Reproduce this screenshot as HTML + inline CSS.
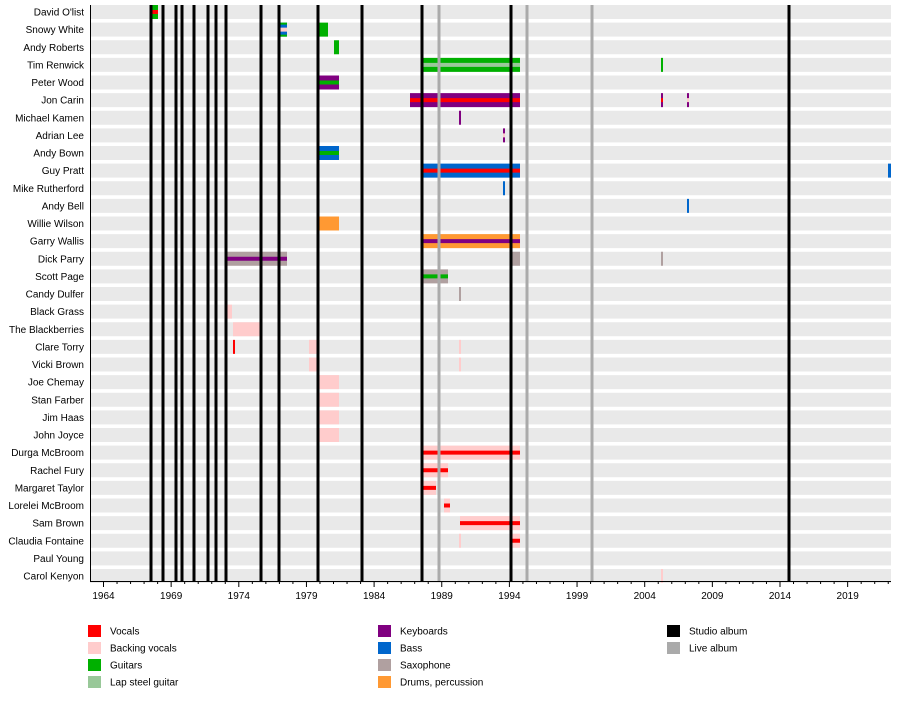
<!DOCTYPE html><html><head><style>body{margin:0;background:#fff}svg{display:block;font-family:"Liberation Sans",sans-serif}</style></head><body>
<svg id="s" width="900" height="701" xmlns="http://www.w3.org/2000/svg"></svg>
<script>
const s=document.getElementById('s');let h='';
const names=["David O'list","Snowy White","Andy Roberts","Tim Renwick","Peter Wood","Jon Carin","Michael Kamen","Adrian Lee","Andy Bown","Guy Pratt","Mike Rutherford","Andy Bell","Willie Wilson","Garry Wallis","Dick Parry","Scott Page","Candy Dulfer","Black Grass","The Blackberries","Clare Torry","Vicki Brown","Joe Chemay","Stan Farber","Jim Haas","John Joyce","Durga McBroom","Rachel Fury","Margaret Taylor","Lorelei McBroom","Sam Brown","Claudia Fontaine","Paul Young","Carol Kenyon"];
const cy=i=>12+i*17.625;
names.forEach((n,i)=>{h+=`<rect x="90" y="${cy(i)-7}" width="801" height="14" fill="#e9e9e9"/>`;h+=`<text x="84" y="${cy(i)+3.5}" font-size="10" text-anchor="end" fill="#000">${n}</text>`;});
const C={v:'#ff0000',b:'#ffcccc',g:'#00b000',l:'#99c899',k:'#800080',B:'#0066cc',s:'#b0a0a0',d:'#ff9933'};
const bars=[[0,151,158,'g','v'],[1,278,287,'B','b'],[1,319,328,'g'],[2,334,339,'g'],[3,423,520,'g','l'],[3,661,663,'g'],[4,319,339,'k','g'],[5,410,520,'k','v'],[5,661,663,'k','v'],[5,687,689,'k','b'],[6,459,461,'k'],[7,503,505,'k','b'],[8,319,339,'B','g'],[9,423,520,'B','v'],[9,888,891,'B'],[10,503,505,'B'],[11,687,689,'B'],[12,319,339,'d'],[13,423,520,'d','k'],[14,226,287,'s','k'],[14,510,520,'s'],[14,661,663,'s'],[15,423,448,'s','g'],[16,459,461,'s'],[17,226,232,'b'],[18,233,260,'b'],[19,233,235,'v'],[19,309,319,'b'],[19,459,461,'b'],[20,309,319,'b'],[20,459,461,'b'],[21,319,339,'b'],[22,319,339,'b'],[23,319,339,'b'],[24,319,339,'b'],[25,423,520,'b','v'],[26,423,448,'b','v'],[27,423,436,'b','v'],[28,444,450,'b','v'],[29,460,520,'b','v'],[30,459,461,'b'],[30,510,520,'b','v'],[32,661,663,'b']];
bars.forEach(([i,a,b,c,m])=>{h+=`<rect x="${a}" y="${cy(i)-7}" width="${b-a}" height="14" fill="${C[c]}"/>`;if(m){h+=`<rect x="${a}" y="${cy(i)-2}" width="${b-a}" height="4" fill="${C[m]}"/>`;if(c=='g'&&i==1)h+=`<rect x="${a}" y="${cy(i)-7}" width="${b-a}" height="3" fill="${C.g}"/><rect x="${a}" y="${cy(i)+4}" width="${b-a}" height="3" fill="${C.g}"/>`;}});
// snowy white outer green
h+=`<rect x="278" y="${cy(1)-7}" width="9" height="2" fill="#00b000"/><rect x="278" y="${cy(1)+5}" width="9" height="2" fill="#00b000"/>`;
[439,527,592].forEach(x=>h+=`<rect x="${x-1.5}" y="5" width="3" height="576" fill="#aaa"/>`);
[151,163,176,182,194,208,216,226,261,279,318,362,422,511,789].forEach(x=>h+=`<rect x="${x-1.5}" y="5" width="3" height="576" fill="#000"/>`);
h+=`<line x1="90" y1="581.5" x2="891" y2="581.5" stroke="#000"/><line x1="90.5" y1="5" x2="90.5" y2="582" stroke="#000"/>`;
for(let y=1963;y<=2022;y++){const x=103.5+(y-1964)*13.53;if(x<90||x>891)continue;const M=(y-1964)%5==0;h+=`<line x1="${x}" y1="581" x2="${x}" y2="${M?587:584}" stroke="#000"/>`;if(M)h+=`<text x="${x}" y="599" font-size="10" text-anchor="middle">${y}</text>`;}
const L=[[88,631,'v','Vocals'],[88,648,'b','Backing vocals'],[88,665,'g','Guitars'],[88,682,'l','Lap steel guitar'],[378,631,'k','Keyboards'],[378,648,'B','Bass'],[378,665,'s','Saxophone'],[378,682,'d','Drums, percussion'],[667,631,'#000','Studio album'],[667,648,'#aaa','Live album']];
L.forEach(([x,y,c,t])=>{h+=`<rect x="${x}" y="${y-6}" width="13" height="12" fill="${C[c]||c}"/><text x="${x+22}" y="${y+3.5}" font-size="10">${t}</text>`;});
s.innerHTML=h;
</script></body></html>
